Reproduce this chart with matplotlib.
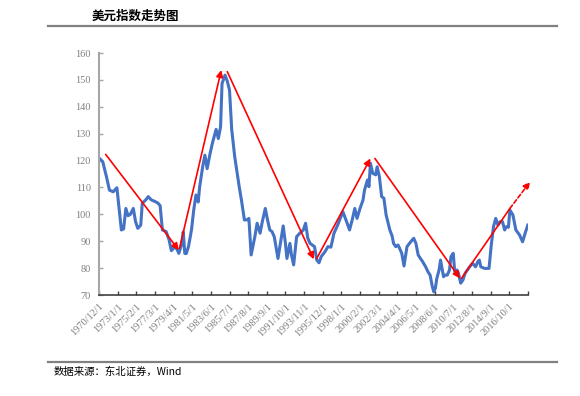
import matplotlib
matplotlib.use("Agg")
import matplotlib.pyplot as plt
from matplotlib.lines import Line2D

plt.rcParams['font.family'] = ['Noto Sans CJK SC', 'DejaVu Sans']

# months since 1970-12 and US dollar index values
months = [0, 5, 10, 14, 19, 24, 30, 33, 36, 39, 42, 46, 49, 52, 56, 58, 63, 66, 70, 75,
          79, 82, 85, 90, 94, 97, 102, 105, 107, 111, 113, 115, 117, 120, 124, 127, 130, 133, 135, 139,
          142, 145, 149, 152, 157, 160, 163, 165, 169, 172, 175, 178, 182, 188, 191, 195, 199, 201, 204, 209,
          212, 216, 219, 223, 226, 229, 232, 235, 240, 244, 247, 250, 252, 256, 258, 261, 265, 269, 274, 277,
          280, 283, 286, 289, 292, 295, 298, 303, 307, 311, 315, 320, 327, 332, 336, 340, 343, 346, 350, 354,
          356, 360, 362, 364, 367, 371, 373, 376, 379, 382, 385, 390, 393, 395, 398, 401, 403, 406, 409, 411,
          413, 418, 422, 425, 428, 431, 434, 438, 441, 444, 447, 449, 451, 453, 456, 458, 460, 462, 464, 467,
          470, 472, 475, 477, 480, 482, 485, 488, 491, 494, 497, 501, 505, 508, 510, 512, 517, 523, 526, 529,
          532, 535, 538, 541, 544, 546, 549, 551, 555, 559, 564, 568, 572, 575]
values = [121.0, 119.6, 114.0, 109.0, 108.4, 109.9, 94.2, 94.6, 102.2, 99.5, 100.0, 102.2, 97.3, 94.8, 96.0, 104.1, 105.5, 106.6, 105.4, 104.8,
          104.2, 103.2, 94.2, 93.6, 90.5, 86.5, 88.0, 86.8, 85.5, 89.0, 93.5, 85.5, 85.4, 88.0, 94.2, 101.6, 107.2, 104.6, 110.3, 117.7,
          122.0, 117.0, 122.7, 126.4, 131.6, 128.2, 132.6, 148.7, 151.8, 149.6, 146.2, 131.4, 121.4, 110.3, 105.3, 97.9, 98.0, 98.5, 84.9, 91.7,
          96.7, 93.0, 97.3, 102.2, 97.9, 94.2, 93.6, 91.7, 83.6, 90.5, 95.7, 89.2, 83.6, 89.2, 85.0, 81.2, 91.7, 92.9, 94.2, 96.7,
          91.1, 89.2, 88.6, 88.0, 83.0, 82.0, 84.3, 86.1, 88.0, 87.8, 92.9, 96.0, 101.0, 97.3, 94.2, 98.5, 102.2, 98.5, 102.2, 105.3,
          109.0, 112.8, 110.3, 119.0, 115.3, 114.7, 117.7, 114.0, 106.6, 106.0, 99.8, 94.2, 92.0, 89.2, 88.0, 88.6, 87.4, 85.5, 80.8, 84.3,
          88.0, 89.8, 91.1, 89.2, 84.9, 83.6, 82.4, 80.5, 78.7, 77.4, 73.1, 71.2, 72.5, 76.2, 79.3, 83.0, 79.9, 76.8, 77.4, 77.4,
          79.3, 84.3, 85.5, 78.7, 79.3, 78.1, 74.4, 75.6, 78.1, 79.3, 80.5, 81.8, 80.5, 82.4, 83.0, 80.5, 79.9, 79.9, 88.6, 95.4,
          98.5, 96.0, 97.3, 97.3, 94.2, 95.4, 95.2, 101.6, 99.8, 94.2, 92.3, 89.8, 93.5, 96.0]

tick_labels = ['1970/12/1', '1973/1/1', '1975/2/1', '1977/3/1', '1979/4/1', '1981/5/1',
               '1983/6/1', '1985/7/1', '1987/8/1', '1989/9/1', '1991/10/1', '1993/11/1',
               '1995/12/1', '1998/1/1', '2000/2/1', '2002/3/1', '2004/4/1', '2006/5/1',
               '2008/6/1', '2010/7/1', '2012/8/1', '2014/9/1', '2016/10/1']

# trend arrows: (start month, start value, end month, end value)
trend_starts_m = [9, 108, 172, 292, 370, 486]
trend_starts_v = [122.3, 87.4, 153.1, 83.6, 120.8, 76.2]
trend_ends_m = [107, 164, 288, 364, 484, 551]
trend_ends_v = [86.7, 153.7, 83.3, 120.8, 76.2, 102.2]
forecast_end_m = 578
forecast_end_v = 112.1

fig = plt.figure(figsize=(5.8, 3.96), dpi=100)
ax = fig.add_axes([0.1707, 0.255, 0.7393, 0.611])

ax.plot(months, values, color='#4472C4', lw=2.2, solid_joinstyle='round', zorder=2)

red = '#FF0000'
n = len(trend_starts_m)
for i in range(n):
    last = (i == n - 1)
    ax.annotate('', xy=(trend_ends_m[i], trend_ends_v[i]),
                xytext=(trend_starts_m[i], trend_starts_v[i]),
                arrowprops=dict(arrowstyle='-' if last else '-|>', color=red, lw=1.2,
                                mutation_scale=10, shrinkA=0, shrinkB=0),
                annotation_clip=False, zorder=3)
ax.annotate('', xy=(forecast_end_m, forecast_end_v),
            xytext=(trend_ends_m[-1], trend_ends_v[-1]),
            arrowprops=dict(arrowstyle='-|>', color=red, lw=1.2, ls=(0, (2.5, 1.5)),
                            mutation_scale=10, shrinkA=0, shrinkB=0),
            annotation_clip=False, zorder=3)

ax.set_xlim(0, 575)
ax.set_ylim(70, 160)
ax.set_yticks(range(70, 161, 10))
ax.set_xticks(range(0, 576, 25))
ax.set_xticklabels(tick_labels + [''])

for s in ['top', 'right']:
    ax.spines[s].set_visible(False)
ax.spines['left'].set_color('#a6a6a6')
ax.spines['left'].set_linewidth(1.5)
ax.spines['bottom'].set_color('#404040')
ax.spines['bottom'].set_linewidth(1.2)

ax.tick_params(axis='y', direction='in', length=3, width=1, color='#a6a6a6',
               labelsize=7.5, labelcolor='#808080', pad=6)
ax.tick_params(axis='x', direction='in', length=3, width=1, color='#404040',
               labelsize=7.5, labelcolor='#808080', pad=5)
for lab in ax.get_yticklabels():
    lab.set_family('Liberation Serif')
for lab in ax.get_xticklabels():
    lab.set_family('Liberation Serif')
    lab.set_rotation(45)
    lab.set_ha('right')
    lab.set_rotation_mode('anchor')

fig.text(92 / 580, 0.958, '美元指数走势图', fontsize=9, fontweight='bold',
         ha='left', va='center', color='#000000')
fig.add_artist(Line2D([48 / 580, 557 / 580], [0.934, 0.934], color='#808080', lw=1.6))
fig.add_artist(Line2D([48 / 580, 557 / 580], [0.0859, 0.0859], color='#808080', lw=1.6))
fig.text(54 / 580, 0.0614, '数据来源：东北证券，Wind', fontsize=7.5, ha='left', va='center',
         color='#000000')

fig.savefig('out.png', dpi=100)
